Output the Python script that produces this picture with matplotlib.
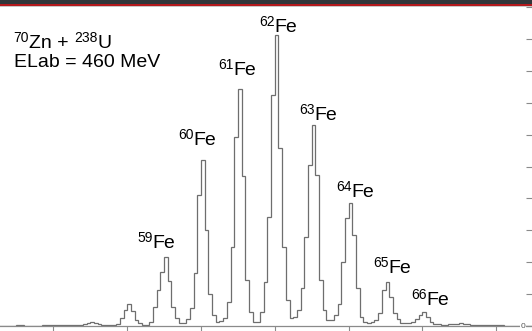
import numpy as np
import matplotlib
matplotlib.use("Agg")
import matplotlib.pyplot as plt
from matplotlib.patches import Rectangle

plt.rcParams['font.family'] = ['Liberation Sans', 'DejaVu Sans']

# histogram: 0.1 mass-unit bins starting at A = 54.5
bin_start = 54.5
bin_width = 0.1
# counts, one row per mass number (bins A-0.5 .. A+0.5)
counts_55 = [1, 1, 1, 1, 1, 2, 2, 1, 1, 1]
counts_56 = [1, 1, 2, 2, 3, 4, 4, 3, 2, 2]
counts_57 = [2, 2, 3, 5, 8, 12, 10, 6, 4, 3]
counts_58 = [2, 3, 6, 24, 50, 69, 47, 20, 8, 4]
counts_59 = [4, 13, 60, 113, 170, 215, 140, 60, 24, 8]
counts_60 = [9, 22, 55, 166, 411, 520, 300, 100, 35, 13]
counts_61 = [15, 25, 75, 248, 592, 743, 470, 145, 45, 13]
counts_62 = [13, 45, 139, 343, 724, 912, 558, 249, 82, 25]
counts_63 = [28, 50, 120, 280, 505, 630, 473, 144, 50, 19]
counts_64 = [20, 35, 70, 200, 340, 386, 285, 120, 29, 13]
counts_65 = [10, 12, 20, 40, 113, 139, 92, 40, 21, 8]
counts_66 = [8, 9, 12, 21, 34, 45, 29, 13, 6, 5]
counts_67 = [4, 4, 5, 6, 7, 9, 7, 5, 4, 3]
counts_68 = [2, 2, 2, 2, 2, 2, 2, 1, 1, 1]
counts_69 = [1, 1, 1, 1, 1]

counts = (counts_55 + counts_56 + counts_57 + counts_58 + counts_59 + counts_60
          + counts_61 + counts_62 + counts_63 + counts_64 + counts_65
          + counts_66 + counts_67 + counts_68 + counts_69)
edges = bin_start + bin_width * np.arange(len(counts) + 1)

labels_mass = [59, 60, 61, 62, 63, 64, 65, 66]
x_ticks = [56, 58, 60, 62, 64, 66, 68]

W, H = 532, 331
fig = plt.figure(figsize=(W / 100, H / 100), dpi=100)
ax = fig.add_axes([0, 5 / H, 1, (326 - 7) / H])

ax.stairs(counts, edges, color='#6e6e6e', lw=0.9)
ax.set_xlim(54.553, 68.97)
ax.set_ylim(0, 1000)

for s in ['left', 'top', 'right']:
    ax.spines[s].set_visible(False)
ax.spines['bottom'].set_color('#8a8a8a')
ax.spines['bottom'].set_linewidth(0.9)

ax.set_xticks(x_ticks)
ax.set_xticklabels([])
ax.tick_params(axis='x', direction='out', length=5, width=0.8, color='#8a8a8a')
ax.yaxis.tick_right()
ax.set_yticks(np.arange(0, 1001, 100))
ax.set_yticklabels([])
ax.tick_params(axis='y', direction='in', length=4, width=0.8, color='#8a8a8a')

ax.text(523 / W, 0.0, '0', transform=ax.transAxes, fontsize=6, color='#555555',
        ha='center', va='center',
        bbox=dict(facecolor='white', edgecolor='none', pad=0.3))

# header band of the slide
fig.patches.append(Rectangle((0, 1 - 4 / H), 1, 4 / H, transform=fig.transFigure,
                             facecolor='#30363a', edgecolor='none', zorder=5))
fig.patches.append(Rectangle((0, 1 - 6 / H), 1, 2 / H, transform=fig.transFigure,
                             facecolor='#b3191d', edgecolor='none', zorder=5))
fig.patches.append(Rectangle((0, 1 - 7 / H), 1, 1 / H, transform=fig.transFigure,
                             facecolor='#c8c8c8', edgecolor='none', zorder=5))


def ptext(px, py, s, size):
    fig.text(px / W, 1 - py / H, s, fontsize=size, va='baseline')


SUP = 10
DIGIT = 7.6


def sup_label(px, py, sup, main):
    ptext(px, py - 6, sup, SUP)
    ptext(px + len(sup) * DIGIT + 0.5, py, main, 14)


# reaction labels
sup_label(13, 48.5, '70', 'Zn +')
sup_label(74, 48.5, '238', 'U')
ptext(14, 67, 'ELab = 460 MeV', 14)

# isotope labels (superscript start x, baseline y in pixels)
label_pos = [(137, 248), (178, 145), (218, 75), (259, 31.5),
             (299, 120), (336, 197), (373, 273), (411, 305)]
for m, (px, py) in zip(labels_mass, label_pos):
    sup_label(px, py, str(m), 'Fe')

fig.savefig('out.png', dpi=100)
